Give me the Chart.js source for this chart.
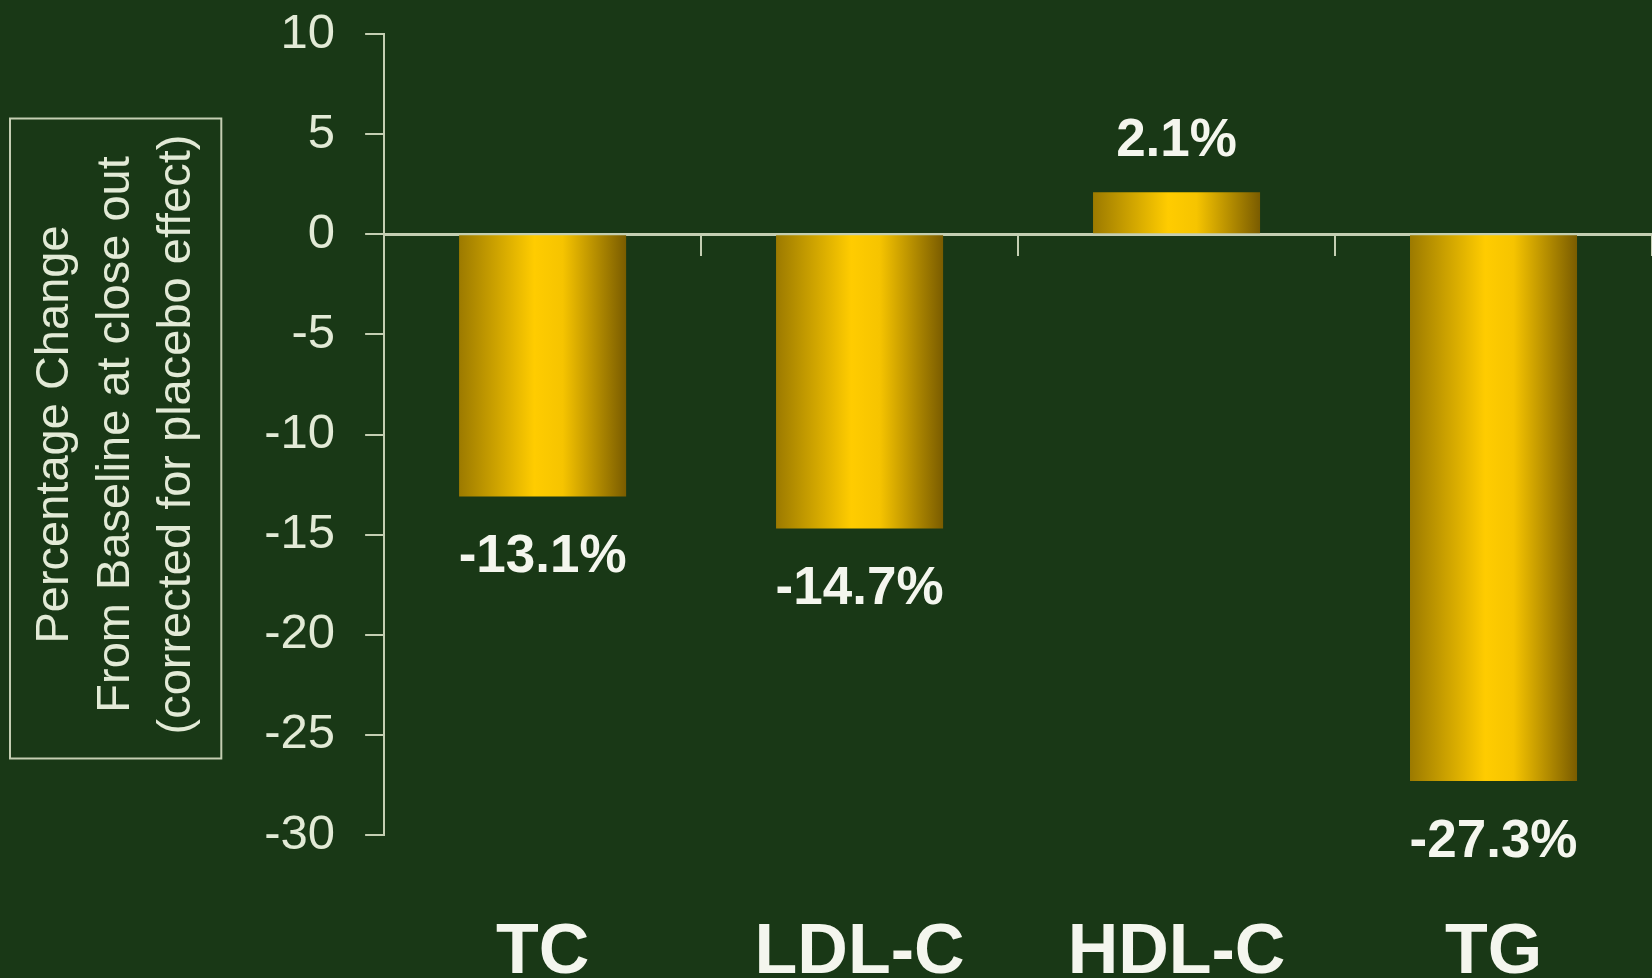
<!DOCTYPE html>
<html>
<head>
<meta charset="utf-8">
<title>Percentage change from baseline</title>
<script src="https://cdn.jsdelivr.net/npm/chart.js@4.4.1/dist/chart.umd.min.js"></script>
<style>
  html, body { margin: 0; padding: 0; background: #193816; }
  #wrap { width: 1652px; height: 978px; position: relative; }
</style>
</head>
<body>
<div id="wrap"><canvas id="lipidChart"></canvas></div>
<script>
const categories = ['TC', 'LDL-C', 'HDL-C', 'TG'];
const percentChange = [-13.1, -14.7, 2.1, -27.3];
const yTitleLines = ['Percentage Change', 'From Baseline at close out', '(corrected for placebo effect)'];
const yMin = -30;
const yMax = 10;
const yStep = 5;

const FONT = '"Liberation Sans", Arial, Helvetica, sans-serif';
const LINE = '#c4ceb2';
const TEXT = '#e2ead6';

// horizontal gold shading on every bar
const goldBars = {
    id: 'goldBars',
    beforeDatasetsDraw(chart) {
        const ctx = chart.ctx;
        chart.getDatasetMeta(0).data.forEach(bar => {
            const left = bar.x - bar.width / 2;
            const g = ctx.createLinearGradient(left, 0, left + bar.width, 0);
            g.addColorStop(0, '#9c7a00');
            g.addColorStop(0.45, '#ffcc00');
            g.addColorStop(0.62, '#f6c400');
            g.addColorStop(1, '#7a5c00');
            bar.options = Object.assign({}, bar.options, { backgroundColor: g });
        });
    }
};

// "-13.1%" style labels beyond the end of each bar
const valueLabels = {
    id: 'valueLabels',
    afterDatasetsDraw(chart) {
        const ctx = chart.ctx;
        const values = chart.data.datasets[0].data;
        ctx.save();
        ctx.font = 'bold 53px ' + FONT;
        ctx.fillStyle = '#f4f6ee';
        ctx.textAlign = 'center';
        ctx.textBaseline = 'middle';
        chart.getDatasetMeta(0).data.forEach((bar, i) => {
            const v = values[i];
            const y = v < 0 ? bar.y + 61 : bar.y - 51;
            ctx.fillText(v.toFixed(1) + '%', bar.x, y);
        });
        ctx.restore();
    }
};

// frame around the y axis title
const titleBox = {
    id: 'titleBox',
    afterDraw(chart) {
        const y = chart.scales.y;
        const t = y.options.title;
        const font = Chart.helpers.toFont(t.font);
        const ctx = chart.ctx;
        ctx.save();
        ctx.font = font.string;
        const longest = Math.max(...yTitleLines.map(s => ctx.measureText(s).width));
        const w = 14 + font.lineHeight * yTitleLines.length + 14;
        const h = longest + 40;
        const cy = (y.top + y.bottom) / 2 + 4;
        ctx.strokeStyle = LINE;
        ctx.lineWidth = 2;
        ctx.strokeRect(y.left, cy - h / 2, w, h);
        ctx.restore();
    }
};

new Chart(document.getElementById('lipidChart'), {
    type: 'bar',
    data: {
        labels: categories,
        datasets: [{
            data: percentChange,
            backgroundColor: () => '#ffcc00',
            borderWidth: 0,
            categoryPercentage: 1,
            barPercentage: 0.527
        }]
    },
    options: {
        responsive: true,
        maintainAspectRatio: false,
        animation: false,
        layout: { padding: { top: 34, left: 10, right: 0, bottom: 0 } },
        plugins: {
            legend: { display: false },
            tooltip: { enabled: false }
        },
        scales: {
            x: {
                position: { y: 0 },
                ticks: { display: false },
                grid: { drawOnChartArea: false, drawTicks: true, tickLength: 20, color: LINE, lineWidth: 2 },
                border: { color: LINE, width: 3 },
                // sits on the zero line, so it needs no room of its own
                afterFit: s => { s.height = 0; }
            },
            xLabels: {
                type: 'category',
                labels: categories,
                position: 'bottom',
                offset: true,
                grid: { display: false, drawTicks: false },
                border: { display: false },
                ticks: {
                    color: '#f4f6ee',
                    font: { family: FONT, size: 70, weight: 'bold', lineHeight: 0.7 },
                    padding: 94
                },
                // padding only above the labels
                afterFit: s => { s.height -= s.options.ticks.padding; }
            },
            y: {
                min: yMin,
                max: yMax,
                ticks: {
                    stepSize: yStep,
                    color: TEXT,
                    font: { family: FONT, size: 49 },
                    padding: 30
                },
                grid: { drawOnChartArea: false, tickLength: 19, color: LINE, lineWidth: 2 },
                border: { color: LINE, width: 2 },
                title: {
                    display: true,
                    text: yTitleLines,
                    color: TEXT,
                    font: { family: FONT, size: 47, lineHeight: 1.3 },
                    padding: { top: 14, bottom: 57 }
                },
                afterFit: s => {
                    s.width -= s.options.ticks.padding;
                    s.paddingTop = 0;
                    s.paddingBottom = 0;
                }
            }
        }
    },
    plugins: [goldBars, valueLabels, titleBox]
});
</script>
</body>
</html>
